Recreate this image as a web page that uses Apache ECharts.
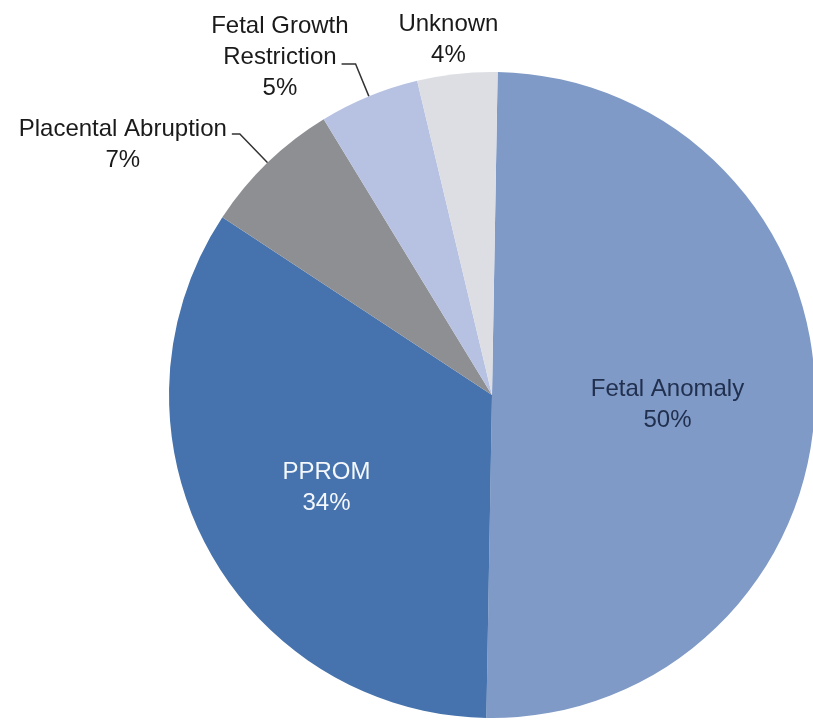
<!DOCTYPE html>
<html>
<head>
<meta charset="utf-8">
<script src="https://cdn.jsdelivr.net/npm/echarts@6/dist/echarts.min.js"></script>
<style>
  html, body { margin: 0; padding: 0; background: #fff; }
  #chart { width: 813px; height: 724px; }
</style>
</head>
<body>
<div id="chart"></div>
<script>
// data
var causes = ["Fetal Anomaly", "PPROM", "Placental Abruption", "Fetal Growth\nRestriction", "Unknown"];
var shares = [50, 34, 7, 5, 4];
var colors = ["#7f9ac6", "#4673ad", "#8e8f93", "#b7c2e2", "#dcdee4"];

// label style per slice
var labelSetup = [
  { label: { position: "inside", color: "#22304f" } },
  { label: { position: "inside", color: "#f4f7fc" } },
  { label: { position: "outside", padding: [22, 0, 0, 0] }, labelLine: { length: 40, length2: 8 } },
  { label: { position: "outside", padding: [0, 0, 14, 0], distanceToLabelLine: -7 }, labelLine: { length: 35, length2: 14 } },
  { label: { position: "outside" }, labelLine: { show: false, length: 34, length2: 0 } },
];

var data = causes.map(function (name, i) {
  return Object.assign({ name: name, value: shares[i], itemStyle: { color: colors[i] } }, labelSetup[i]);
});

var chart = echarts.init(document.getElementById("chart"));
chart.setOption({
  animation: false,
  series: [
    {
      type: "pie",
      center: [492, 395],
      radius: 323,
      startAngle: 89,
      clockwise: true,
      avoidLabelOverlap: false,
      data: data,
      label: {
        fontFamily: "Liberation Sans",
        fontSize: 24,
        color: "#1a1a1a",
        formatter: function (p) {
          var lines = p.name.split("\n").concat([p.value + "%"]);
          return lines.map(function (s) { return "{c|" + s + "}"; }).join("\n");
        },
        rich: {
          c: { align: "center", lineHeight: 31, fontFamily: "Liberation Sans", fontSize: 24 },
        },
      },
      labelLine: {
        lineStyle: { color: "#333", width: 1.5 },
      },
      labelLayout: function (p) {
        if (p.dataIndex === 0) return { dx: 11, dy: 7, hideOverlap: false };
        if (p.dataIndex === 1) return { dx: -20, dy: 16, hideOverlap: false };
        if (p.dataIndex === 4) return { align: "center", hideOverlap: false };
        return { hideOverlap: false };
      },
      emphasis: { disabled: true },
    },
  ],
});
</script>
</body>
</html>
